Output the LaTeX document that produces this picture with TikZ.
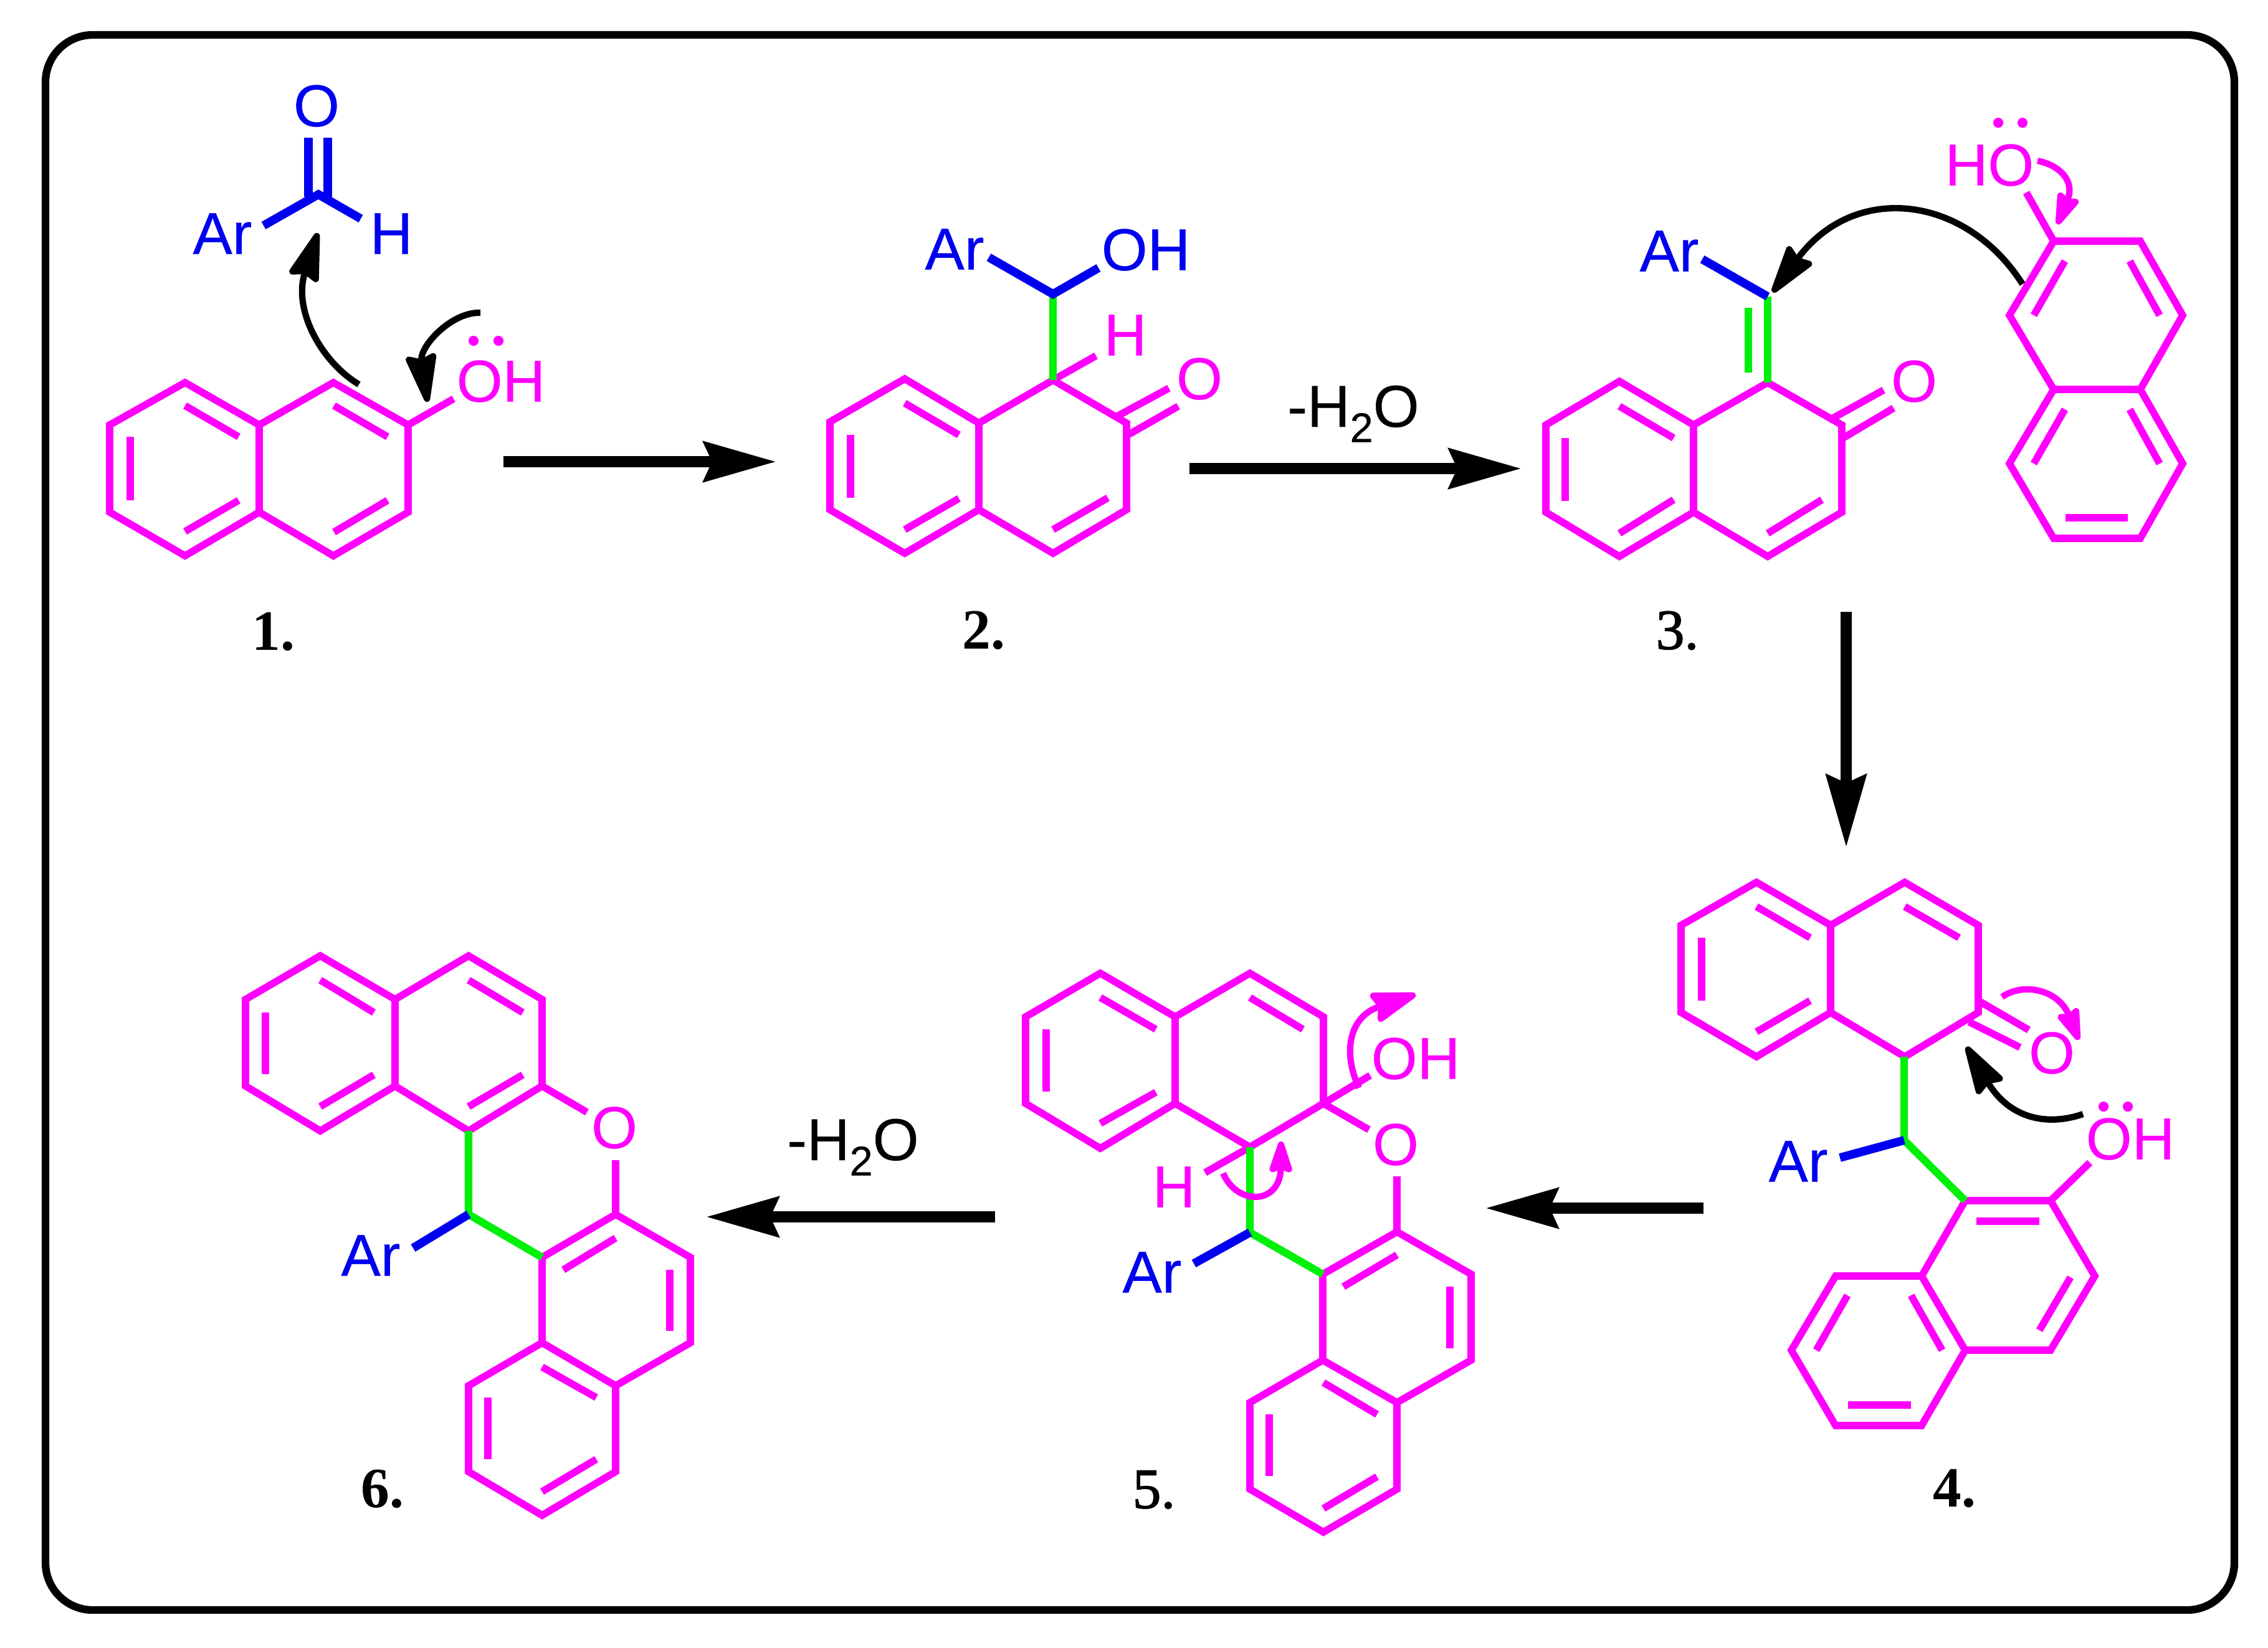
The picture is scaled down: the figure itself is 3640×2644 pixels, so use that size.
\documentclass[tikz,border=0pt]{standalone}
\usepackage{fontspec}
\setmainfont[FakeBold=0.35]{Liberation Sans}
\newfontfamily\numfont{Liberation Serif}
\newfontfamily\numfontm[FakeBold=1.6]{Liberation Serif}
\usetikzlibrary{arrows.meta}
\definecolor{molpink}{RGB}{255,0,255}
\definecolor{molblue}{RGB}{0,0,240}
\definecolor{molgreen}{RGB}{0,240,10}
\tikzset{
  frame/.style={line width=3.5pt,rounded corners=21.6pt},
  ring/.style={molpink,line width=3.3pt},
  bondb/.style={molblue,line width=3.9pt},
  bondg/.style={molgreen,line width=3.5pt},
  atomp/.style={text=molpink,inner sep=0pt,font=\fontsize{27}{30}\selectfont},
  atomb/.style={text=molblue,inner sep=0pt,font=\fontsize{27}{30}\selectfont},
  loss/.style={inner sep=0pt,anchor=base,font=\fontsize{27}{30}\selectfont},
  molnum/.style={inner sep=0pt,font=\numfont\bfseries\fontsize{26}{30}\selectfont},
  molnumr/.style={inner sep=0pt,font=\numfontm\fontsize{26}{30}\selectfont},
  rxn/.style={line width=5.3pt,-{Stealth[length=33pt,width=18pt,inset=3.7pt]}},
  curlyk/.style={line width=2.9pt,-{Stealth[round,length=26pt,width=15pt,inset=2.5pt]}},
  curlyp/.style={molpink,line width=2.9pt,-{Stealth[round,length=18pt,width=11.5pt,inset=2pt]}},
  curlyq/.style={molpink,line width=2.9pt,-{Stealth[round,length=24pt,width=15pt,inset=2.5pt]}},
}
\newcommand{\subtwo}{\raisebox{-0.26em}{\fontsize{19}{20}\selectfont 2}}
\begin{document}
\begin{tikzpicture}[x=0.01cm,y=-0.01cm]
  \useasboundingbox (0,0) rectangle (3640,2644);
  \draw[frame] (73,56) rectangle (3586,2584);

  % molecule 1
  \draw[ring] (297,614) -- (176,682) -- (176,822) -- (297,892) -- (416,822) -- (535,892) -- (655,822) -- (655,682) -- (535,614) -- (416,682) -- cycle;
  \draw[ring] (416,682) -- (416,822);
  \foreach \xa/\ya/\xb/\yb in {297/651/383/701, 209/701/209/803, 297/853/383/803, 536/651/622/701, 536/854/622/803}{
    \draw[ring] (\xa,\ya) -- (\xb,\yb);
  }
  \foreach \n/\x/\y in {ma/511/312, mao/423/362, mah/579/351, mb/655/682, mbo/728/640, mcs/576/617, mct/510/374, mds/771/502, mdt/686/645}{
    \coordinate (\n) at (\x,\y);
  }
  \draw[bondb] (495,221) -- (495,316);
  \draw[bondb] (526,221) -- (526,316);
  \draw[bondb] (mao) -- (ma) -- (mah);
  \draw[ring] (mb) -- (mbo);
  \node[atomb] (oa) at (508,170) {O};
  \node[atomb] (ara) at (357,375) {Ar};
  \node[atomb] (ha) at (628,375) {H};
  \node[atomp] (oha) at (804,612) {OH};
  \foreach \x in {760,800}{
    \fill[molpink] (\x,547) circle (2.3pt);
  }
  \draw[curlyk] (mcs) .. controls (515,580) and (470,497) .. (mct);
  \draw[curlyk] (mds) .. controls (725,500) and (673,556) .. (mdt);
  \node[molnum] (numa) at (439,1014) {1.};

  % molecule 2
  \draw[ring] (1452,608) -- (1332,677) -- (1332,818) -- (1452,888) -- (1571,818) -- (1690,888) -- (1808,818) -- (1808,679) -- (1690,610) -- (1571,679) -- cycle;
  \draw[ring] (1571,679) -- (1571,818);
  \foreach \xa/\ya/\xb/\yb in {1452/647/1539/698, 1365/698/1365/799, 1452/850/1539/800, 1690/850/1778/799, 1793/668/1876/623, 1812/697/1891/652}{
    \draw[ring] (\xa,\ya) -- (\xb,\yb);
  }
  \foreach \n/\x/\y in {na/1690/610, nb/1690/472, nh/1759/571, nar/1587/413, noh/1763/430}{
    \coordinate (\n) at (\x,\y);
  }
  \draw[ring] (na) -- (nh);
  \draw[bondg] (na) -- (nb);
  \draw[bondb] (nar) -- (nb) -- (noh);
  \node[atomb] (arb) at (1532,400) {Ar};
  \node[atomb] (ohb) at (1839,401) {OH};
  \node[atomp] (hb) at (1806,538) {H};
  \node[atomp] (ob) at (1925,608) {O};
  \node[molnum] (numb) at (1579,1012) {2.};

  % molecule 3
  \draw[ring] (2599,612) -- (2481,682) -- (2481,822) -- (2599,893) -- (2718,822) -- (2837,893) -- (2956,822) -- (2956,682) -- (2837,614) -- (2718,682) -- cycle;
  \draw[ring] (2718,682) -- (2718,822);
  \foreach \xa/\ya/\xb/\yb in {2599/652/2686/703, 2512/703/2512/804, 2599/856/2686/802, 2837/856/2924/802, 2942/671/3023/626, 2958/703/3039/655}{
    \draw[ring] (\xa,\ya) -- (\xb,\yb);
  }
  \foreach \n/\x/\y in {pa/2837/614, pb/2837/476, par/2732/416, pc/2806/494, pd/2806/598}{
    \coordinate (\n) at (\x,\y);
  }
  \draw[bondg] (pa) -- (pb);
  \draw[bondg] (pc) -- (pd);
  \draw[bondb] (par) -- (pb);
  \node[atomb] (arc) at (2679,403) {Ar};
  \node[atomp] (oc) at (3072,612) {O};
  \node[molnumr] (numc) at (2692,1012) {3.};

  % second naphthol
  \draw[ring] (3296,387) -- (3435,387) -- (3503,506) -- (3435,625) -- (3503,744) -- (3435,864) -- (3296,864) -- (3225,744) -- (3296,625) -- (3225,506) -- cycle;
  \draw[ring] (3296,625) -- (3435,625);
  \foreach \xa/\ya/\xb/\yb in {3314/419/3264/506, 3418/419/3466/506, 3314/657/3264/744, 3418/657/3466/744, 3315/831/3415/831}{
    \draw[ring] (\xa,\ya) -- (\xb,\yb);
  }
  \foreach \n/\x/\y in {qa/3296/387, qo/3252/309, qs/3270/258, qt/3302/360, qk/3246/456, qe/2845/469}{
    \coordinate (\n) at (\x,\y);
  }
  \draw[ring] (qa) -- (qo);
  \node[atomp] (hoc) at (3193,265) {HO};
  \foreach \x in {3207,3246}{
    \fill[molpink] (\x,197) circle (2.3pt);
  }
  \draw[curlyp] (qs) .. controls (3305,265) and (3331,290) .. (qt);
  \draw[curlyk] (qk) .. controls (3155,313) and (2977,291) .. (qe);

  % molecule 4
  \draw[ring] (2819,1416) -- (2698,1485) -- (2698,1625) -- (2819,1696) -- (2938,1625) -- (3057,1696) -- (3175,1625) -- (3175,1485) -- (3057,1416) -- (2938,1485) -- cycle;
  \draw[ring] (2938,1485) -- (2938,1625);
  \draw[ring] (3154,1927) -- (3291,1927) -- (3362,2048) -- (3291,2167) -- (3154,2167) -- (3084,2048) -- cycle;
  \draw[ring] (3084,2048) -- (2946,2048) -- (2875,2167) -- (2946,2288) -- (3084,2288) -- (3154,2167);
  \foreach \xa/\ya/\xb/\yb in {2819/1455/2905/1505, 2731/1505/2731/1606, 2819/1656/2905/1606, 3057/1455/3144/1505, 3175/1606/3256/1653, 3160/1640/3242/1681, 3172/1960/3273/1960, 3323/2050/3273/2135, 3067/2079/3117/2167, 2965/2079/2915/2167, 2966/2255/3067/2255}{
    \draw[ring] (\xa,\ya) -- (\xb,\yb);
  }
  \foreach \n/\x/\y in {ra/3056/1696, rb/3056/1830, rar/2953/1858, rc/3154/1927, rd/3291/1927, ro/3354/1866, rks/3343/1788, rkt/3156/1680, rps/3213/1600, rpt/3336/1669}{
    \coordinate (\n) at (\x,\y);
  }
  \draw[ring] (rd) -- (ro);
  \draw[bondg] (ra) -- (rb) -- (rc);
  \draw[bondb] (rar) -- (rb);
  \node[atomb] (ard) at (2886,1864) {Ar};
  \node[atomp] (od) at (3293,1690) {O};
  \node[atomp] (ohd) at (3419,1828) {OH};
  \foreach \x in {3376,3415}{
    \fill[molpink] (\x,1776) circle (2.3pt);
  }
  \draw[curlyk] (rks) .. controls (3285,1808) and (3225,1795) .. (rkt);
  \draw[curlyp] (rps) .. controls (3250,1575) and (3305,1590) .. (rpt);
  \node[molnum] (numd) at (3137,2389) {4.};

  % molecule 5
  \draw[ring] (1766,1562) -- (1646,1632) -- (1646,1771) -- (1766,1843) -- (1886,1771) -- (2006,1841) -- (2124,1771) -- (2124,1632) -- (2006,1562) -- (1886,1632) -- cycle;
  \draw[ring] (1886,1632) -- (1886,1771);
  \draw[ring] (2123,2045) -- (2242,1977) -- (2361,2045) -- (2361,2183) -- (2242,2251) -- (2123,2183) -- cycle;
  \draw[ring] (2123,2183) -- (2006,2251) -- (2006,2390) -- (2124,2459) -- (2242,2390) -- (2242,2251);
  \foreach \xa/\ya/\xb/\yb in {1766/1601/1855/1652, 1679/1652/1679/1752, 1766/1803/1855/1753, 2006/1601/2091/1652, 2156/2065/2242/2014, 2327/2065/2327/2164, 2124/2219/2210/2270, 2037/2270/2037/2369, 2124/2421/2210/2370}{
    \draw[ring] (\xa,\ya) -- (\xb,\yb);
  }
  \foreach \n/\x/\y in {sa/2124/1771, soh/2199/1726, so/2197/1813, sb/2006/1841, sh/1934/1882, sc/2006/1978, sd/2123/2045, sar/1916/2028, se/2242/1888, sf/2242/1977, sps/1963/1883, spt/2056/1832, sqs/2181/1746, sqt/2272/1596}{
    \coordinate (\n) at (\x,\y);
  }
  \draw[ring] (soh) -- (sa) -- (so);
  \draw[ring] (sb) -- (sh);
  \draw[ring] (se) -- (sf);
  \draw[bondg] (sb) -- (sc) -- (sd);
  \draw[bondb] (sar) -- (sc);
  \node[atomb] (are) at (1849,2042) {Ar};
  \node[atomp] (ohe) at (2272,1699) {OH};
  \node[atomp] (oe) at (2240,1837) {O};
  \node[atomp] (he) at (1884,1905) {H};
  \draw[curlyp] (sps) .. controls (1985,1935) and (2055,1935) .. (spt);
  \draw[curlyq] (sqs) .. controls (2155,1690) and (2164,1632) .. (sqt);
  \node[molnumr] (nume) at (1852,2391) {5.};

  % molecule 6
  \draw[ring] (514,1534) -- (394,1604) -- (394,1743) -- (514,1815) -- (634,1743) -- (752,1815) -- (870,1743) -- (870,1604) -- (752,1534) -- (634,1604) -- cycle;
  \draw[ring] (634,1604) -- (634,1743);
  \draw[ring] (870,2018) -- (988,1949) -- (1108,2018) -- (1108,2155) -- (988,2224) -- (870,2155) -- cycle;
  \draw[ring] (870,2155) -- (752,2224) -- (752,2362) -- (870,2432) -- (988,2362) -- (988,2224);
  \foreach \xa/\ya/\xb/\yb in {514/1573/600/1625, 426/1625/426/1724, 514/1776/600/1725, 752/1573/839/1625, 752/1776/839/1725, 904/2038/988/1987, 1075/2038/1075/2136, 870/2194/957/2243, 783/2243/783/2342, 870/2394/957/2342}{
    \draw[ring] (\xa,\ya) -- (\xb,\yb);
  }
  \foreach \n/\x/\y in {ta/870/1743, tb/942/1785, tc/988/1862, td/988/1949, te/752/1815, tf/752/1949, tg/870/2018, tar/663/2003}{
    \coordinate (\n) at (\x,\y);
  }
  \draw[ring] (ta) -- (tb);
  \draw[ring] (tc) -- (td);
  \draw[bondg] (te) -- (tf) -- (tg);
  \draw[bondb] (tar) -- (tf);
  \node[atomb] (arf) at (595,2015) {Ar};
  \node[atomp] (of) at (986,1810) {O};
  \node[molnum] (numf) at (614,2390) {6.};

  % reaction arrows
  \foreach \n/\x/\y in {ua/808/741, ub/1246/741, uc/1909/752, ud/2442/752, ue/2963/982, uf/2963/1360, ug/2734/1939, uh/2384/1939, ui/1597/1953, uj/1133/1953}{
    \coordinate (\n) at (\x,\y);
  }
  \draw[rxn] (ua) -- (ub);
  \draw[rxn] (uc) -- (ud);
  \draw[rxn] (ue) -- (uf);
  \draw[rxn] (ug) -- (uh);
  \draw[rxn] (ui) -- (uj);
  \node[loss] (lossa) at (2172,685) {-H\subtwo O};
  \node[loss] (lossb) at (1369,1862) {-H\subtwo O};
\end{tikzpicture}
\end{document}
